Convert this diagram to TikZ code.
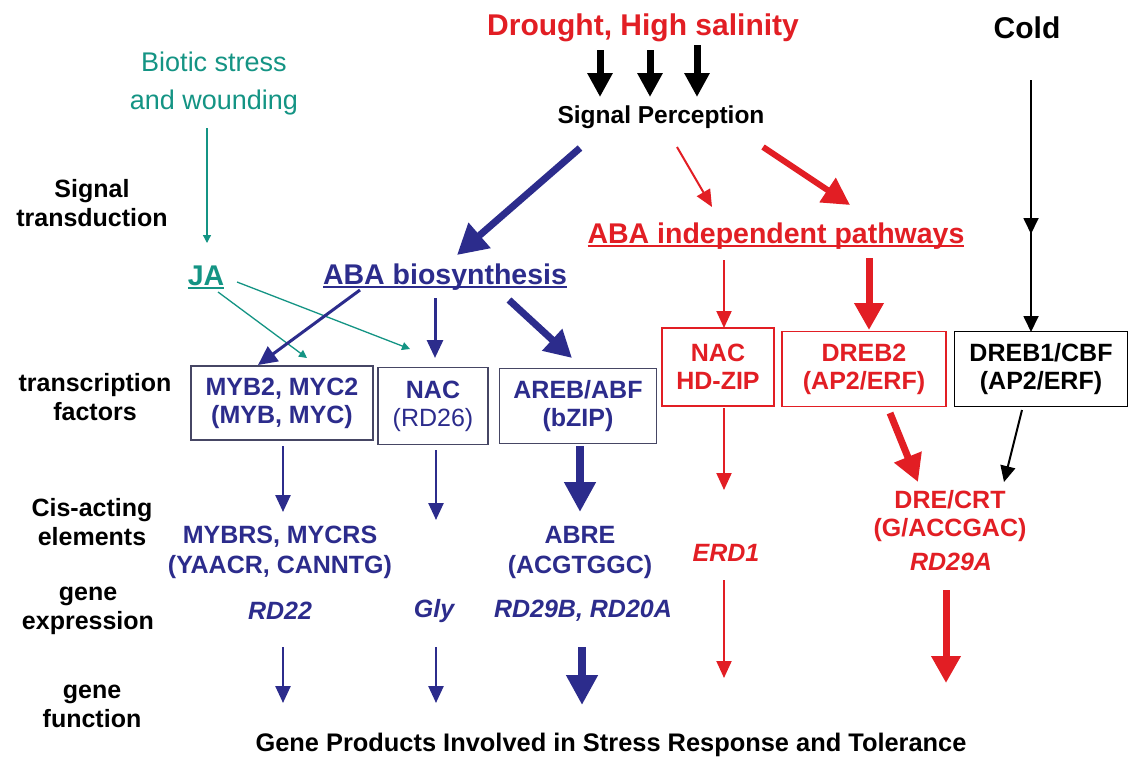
\documentclass[tikz,border=0pt]{standalone}
\usepackage{fontspec}
\setmainfont{Liberation Sans}
\usetikzlibrary{arrows.meta}

\definecolor{stressred}{RGB}{226,30,36}
\definecolor{ababLue}{RGB}{44,44,140}
\definecolor{jateal}{RGB}{20,148,132}
\definecolor{boxgray}{RGB}{70,70,100}

% thick underline for the pathway names
\newcommand{\ulbar}[1]{\setbox0=\hbox{#1}\rlap{\rule[-3.5pt]{\wd0}{1.8pt}}\box0}

\begin{document}
\begin{tikzpicture}[x=1pt,y=-1pt,
    every node/.style={inner sep=0pt,align=center},
    big/.style={font=\fontsize{30}{34}\selectfont\bfseries},
    side/.style={font=\fontsize{25}{29}\selectfont\bfseries},
    elem/.style={font=\fontsize{25}{30}\selectfont\bfseries},
    gene/.style={font=\fontsize{25}{30}\selectfont\bfseries\itshape},
    path/.style={font=\fontsize{28.5}{32}\selectfont\bfseries},
    tfbox/.style={draw,line width=1.5pt,font=\fontsize{25}{28}\selectfont\bfseries},
    hairarr/.style={line width=1.3pt,-{Triangle[length=8pt,width=8pt]}},
    thinarr/.style={line width=2pt,-{Triangle[length=17pt,width=15pt]}},
    medarr/.style={line width=3pt,-{Triangle[length=19pt,width=18pt]}},
    fatarr/.style={line width=7pt,-{Triangle[length=27pt,width=28pt]}}]

\fill[white] (0,0) rectangle (1133,758);
\useasboundingbox (0,0) rectangle (1133,758);

% stresses
\node[big,stressred] (drought) at (643,28) {Drought, High salinity};
\node[big] (cold) at (1027,28) {Cold};
\node[jateal,font=\fontsize{27}{38}\selectfont] (biotic) at (214,84) {Biotic stress\\and wounding};
\node[font=\fontsize{24.5}{28}\selectfont\bfseries] (sp) at (661,117) {Signal Perception};

% row labels
\node[side] (sigtr) at (92,203) {Signal\\transduction};
\node[side] (tfac) at (95,397) {transcription\\factors};
\node[side] (cis) at (92,522) {Cis-acting\\elements};
\node[side] (gexp) at (88,611) {gene\\expression};
\node[side] (gfun) at (92,706) {gene\\function};

% pathways
\node[path,jateal] (ja) at (206,277) {\ulbar{JA}};
\node[path,ababLue] (aba) at (445,277) {\ulbar{ABA biosynthesis}};
\node[path,stressred] (abai) at (776,236) {\ulbar{ABA independent pathways}};

% transcription factors
\node[tfbox,ababLue,draw=boxgray,minimum width=182,minimum height=74] (myb) at (282,403) {MYB2, MYC2\\(MYB, MYC)};
\node[tfbox,ababLue,draw=boxgray,minimum width=110,minimum height=77] (nac) at (433,406) {NAC\\\mdseries(RD26)};
\node[tfbox,ababLue,draw=boxgray,minimum width=157,minimum height=75] (areb) at (578,406) {AREB/ABF\\(bZIP)};
\node[tfbox,stressred,minimum width=112,minimum height=78] (nacr) at (718,367) {NAC\\HD-ZIP};
\node[tfbox,stressred,minimum width=164,minimum height=75] (dreb2) at (864,369) {DREB2\\(AP2/ERF)};
\node[tfbox,minimum width=173,minimum height=75] (dreb1) at (1041,369) {DREB1/CBF\\(AP2/ERF)};

% cis elements and genes
\node[elem,ababLue] (mybrs) at (280,552) {MYBRS, MYCRS\\(YAACR, CANNTG)};
\node[elem,ababLue] (abre) at (580,552) {ABRE\\(ACGTGGC)};
\node[elem,stressred,font=\fontsize{25}{28}\selectfont\bfseries] (dre) at (950,516) {DRE/CRT\\(G/ACCGAC)};
\node[gene,stressred] (rd29a) at (951,562) {RD29A};
\node[gene,stressred] (erd1) at (726,553) {ERD1};
\node[gene,ababLue] (rd22) at (280,611) {RD22};
\node[gene,ababLue] (gly) at (434,611) {Gly};
\node[gene,ababLue] (rd29b) at (583,611) {RD29B, RD20A};
\node[elem,font=\fontsize{25.4}{30}\selectfont\bfseries] (prod) at (611,745) {Gene Products Involved in Stress Response and Tolerance};

\coordinate (coldmid) at (1031,234);

% signal perception
\draw[line width=7pt,-{Triangle[length=24pt,width=24pt]}] ([shift={(-43,22)}]drought.center) -- ([shift={(-61,-20)}]sp.center);
\draw[line width=7pt,-{Triangle[length=24pt,width=24pt]}] ([shift={(7,22)}]drought.center) -- ([shift={(-11,-20)}]sp.center);
\draw[line width=7pt,-{Triangle[length=24pt,width=24pt]}] ([shift={(54,17)}]drought.center) -- ([shift={(36,-20)}]sp.center);
\draw[hairarr,jateal] ([shift={(-7,44)}]biotic.center) -- ([shift={(1,-34)}]ja.center);
\draw[ababLue,line width=7pt,-{Triangle[length=30pt,width=32pt]}] ([shift={(-81,31)}]sp.center) -- ([shift={(12,-22)}]aba.center);
\draw[thinarr,stressred] ([shift={(16,30)}]sp.center) -- ([shift={(-64,-29)}]abai.center);
\draw[fatarr,stressred,line width=6pt] ([shift={(102,30)}]sp.center) -- ([shift={(74,-31)}]abai.center);
\draw[thinarr,line width=1.8pt,-{Triangle[length=16pt,width=15pt]}] ([shift={(4,52)}]cold.center) -- (coldmid);
\draw[thinarr,line width=1.8pt,-{Triangle[length=16pt,width=15pt]}] ([yshift=18]coldmid) -- ([shift={(-10,-37)}]dreb1.center);

% to transcription factors
\draw[thinarr,stressred] ([shift={(-52,24)}]abai.center) -- ([shift={(6,-39)}]nacr.center);
\draw[fatarr,stressred] ([shift={(93,22)}]abai.center) -- ([shift={(5,-39)}]dreb2.center);
\draw[hairarr,jateal] ([shift={(12,15)}]ja.center) -- ([shift={(25,-45)}]myb.center);
\draw[hairarr,jateal] ([shift={(31,5)}]ja.center) -- ([shift={(-23,-57)}]nac.center);
\draw[medarr,ababLue] ([shift={(-85,13)}]aba.center) -- ([shift={(-24,-38)}]myb.center);
\draw[medarr,ababLue,-{Triangle[length=18pt,width=16pt]}] ([shift={(-10,21)}]aba.center) -- ([shift={(2,-48)}]nac.center);
\draw[fatarr,ababLue] ([shift={(64,23)}]aba.center) -- ([shift={(-6,-48)}]areb.center);

% to cis elements
\draw[thinarr,ababLue,line width=2.5pt] ([shift={(1,43)}]myb.center) -- ([shift={(3,-40)}]mybrs.center);
\draw[thinarr,ababLue,line width=2.5pt] ([shift={(3,44)}]nac.center) -- ([shift={(2,-91)}]gly.center);
\draw[fatarr,ababLue,line width=8pt,-{Triangle[length=30pt,width=30pt]}] ([shift={(2,40)}]areb.center) -- ([shift={(0,-40)}]abre.center);
\draw[thinarr,stressred] ([shift={(6,41)}]nacr.center) -- ([shift={(-2,-63)}]erd1.center);
\draw[fatarr,stressred] ([shift={(26,44)}]dreb2.center) -- ([shift={(-32,-34)}]dre.center);
\draw[thinarr,-{Triangle[length=16pt,width=15pt]}] ([shift={(-19,41)}]dreb1.center) -- ([shift={(54,-34)}]dre.center);

% gene function
\draw[thinarr,ababLue,line width=2.5pt] ([shift={(3,36)}]rd22.center) -- ([shift={(-328,-42)}]prod.center);
\draw[thinarr,ababLue,line width=2.5pt] ([shift={(2,36)}]gly.center) -- ([shift={(-175,-42)}]prod.center);
\draw[fatarr,ababLue,line width=8pt,-{Triangle[length=30pt,width=30pt]}] ([shift={(-1,36)}]rd29b.center) -- ([shift={(-29,-40)}]prod.center);
\draw[thinarr,stressred] ([shift={(-2,27)}]erd1.center) -- ([shift={(113,-67)}]prod.center);
\draw[fatarr,stressred] ([shift={(-5,28)}]rd29a.center) -- ([shift={(335,-62)}]prod.center);
\end{tikzpicture}
\end{document}
